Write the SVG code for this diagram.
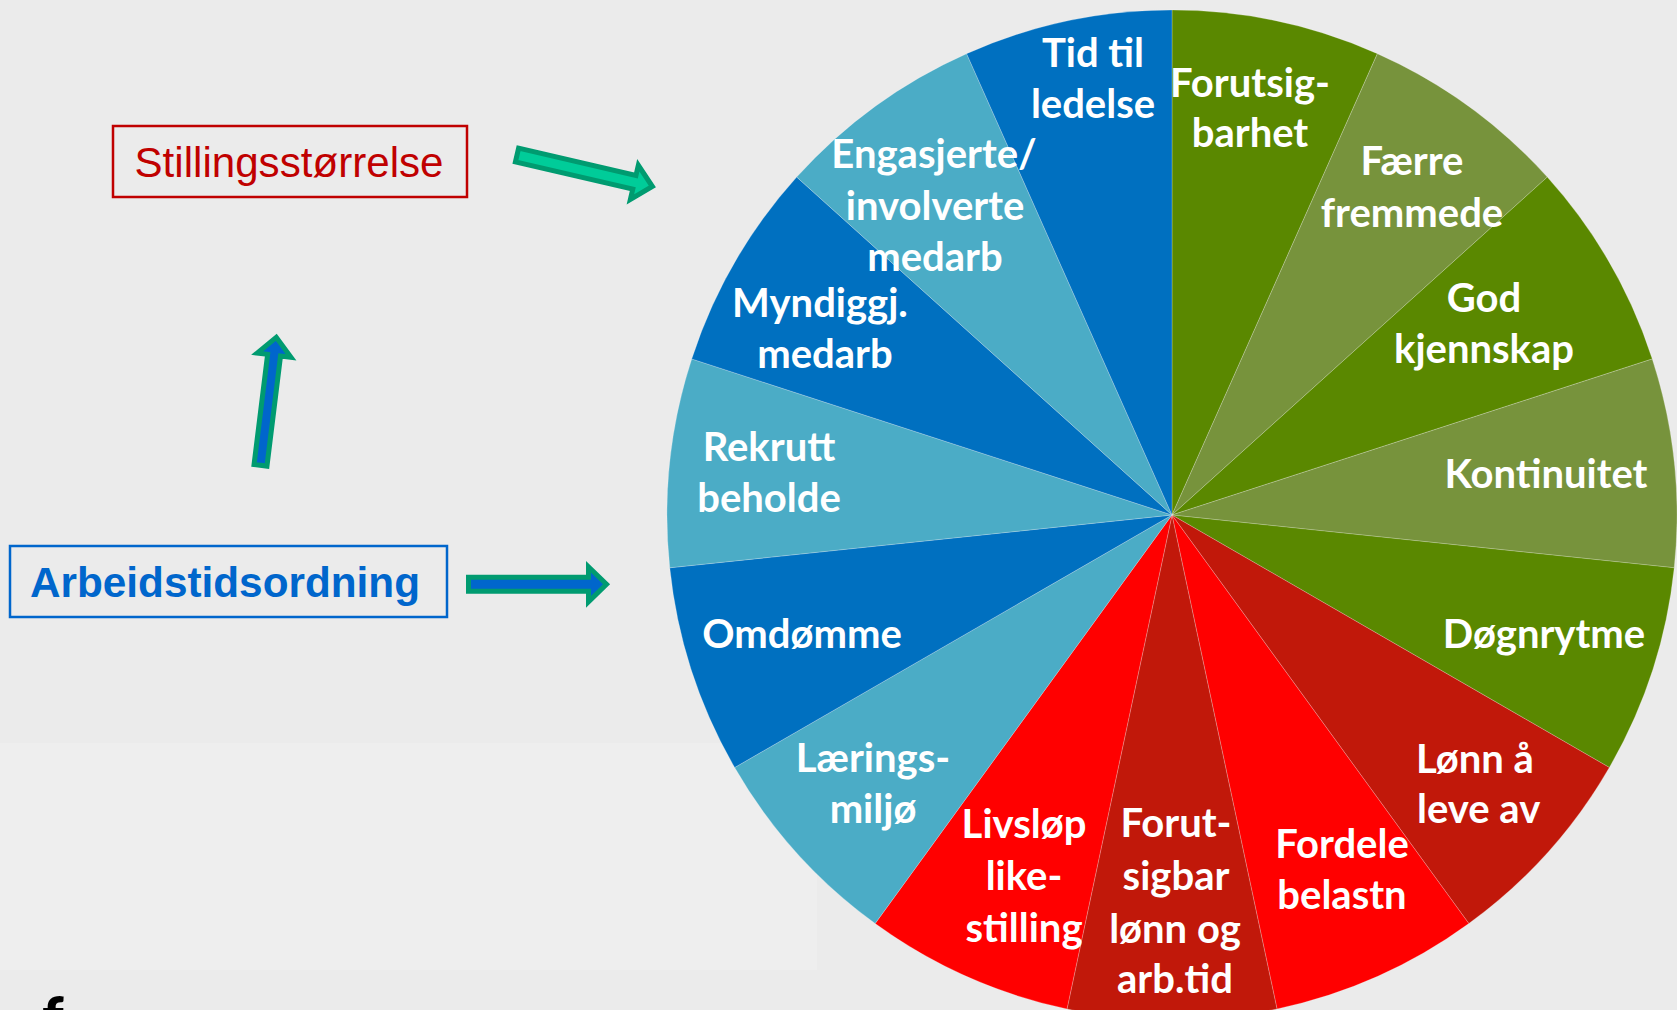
<svg xmlns="http://www.w3.org/2000/svg" width="1677" height="1010" viewBox="0 0 1677 1010">
  <style>
    .seg { stroke: #ffffff; stroke-opacity: 0.22; stroke-width: 1; }
    .dg { fill: #5a8800; }
    .og { fill: #77933c; }
    .dr { fill: #c1180a; }
    .rd { fill: #ff0000; }
    .bl { fill: #0070c0; }
    .lb { fill: #4bacc6; }
    .lbl { font-family: Lato, "Open Sans", "DejaVu Sans", sans-serif; font-weight: 700; font-size: 40px; fill: #ffffff; text-anchor: middle; }
    .lbl.left { text-anchor: start; }
    .box { fill: none; stroke-width: 2.5; }
    .arrow { stroke: #009b70; stroke-width: 5; stroke-linejoin: miter; }
  </style>

  <!-- backdrop -->
  <rect x="0" y="0" width="1677" height="1010" fill="#ebebeb"/>
  <rect x="0" y="743" width="817" height="227" fill="#eeeeee"/>

  <!-- pie: centre (1172,515), r 505, fifteen 24-degree wedges clockwise from 12 o'clock -->
  <g id="pie-wedges">
    <path id="w-forutsigbarhet" class="seg dg" d="M1172,515 L1172,10 A505,505 0 0 1 1377.40,53.66 Z"/>
    <path id="w-faerre-fremmede" class="seg og" d="M1172,515 L1377.40,53.66 A505,505 0 0 1 1547.29,177.09 Z"/>
    <path id="w-god-kjennskap" class="seg dg" d="M1172,515 L1547.29,177.09 A505,505 0 0 1 1652.28,358.95 Z"/>
    <path id="w-kontinuitet" class="seg og" d="M1172,515 L1652.28,358.95 A505,505 0 0 1 1674.23,567.79 Z"/>
    <path id="w-dognrytme" class="seg dg" d="M1172,515 L1674.23,567.79 A505,505 0 0 1 1609.34,767.5 Z"/>
    <path id="w-lonn-a-leve-av" class="seg dr" d="M1172,515 L1609.34,767.5 A505,505 0 0 1 1468.83,923.55 Z"/>
    <path id="w-fordele-belastn" class="seg rd" d="M1172,515 L1468.83,923.55 A505,505 0 0 1 1277.00,1008.97 Z"/>
    <path id="w-forutsigbar-lonn" class="seg dr" d="M1172,515 L1277.00,1008.97 A505,505 0 0 1 1067.00,1008.97 Z"/>
    <path id="w-livslop-likestilling" class="seg rd" d="M1172,515 L1067.00,1008.97 A505,505 0 0 1 875.17,923.55 Z"/>
    <path id="w-laeringsmiljo" class="seg lb" d="M1172,515 L875.17,923.55 A505,505 0 0 1 734.66,767.5 Z"/>
    <path id="w-omdomme" class="seg bl" d="M1172,515 L734.66,767.5 A505,505 0 0 1 669.77,567.79 Z"/>
    <path id="w-rekrutt-beholde" class="seg lb" d="M1172,515 L669.77,567.79 A505,505 0 0 1 691.72,358.95 Z"/>
    <path id="w-myndiggj-medarb" class="seg bl" d="M1172,515 L691.72,358.95 A505,505 0 0 1 796.71,177.09 Z"/>
    <path id="w-engasjerte-medarb" class="seg lb" d="M1172,515 L796.71,177.09 A505,505 0 0 1 966.60,53.66 Z"/>
    <path id="w-tid-til-ledelse" class="seg bl" d="M1172,515 L966.60,53.66 A505,505 0 0 1 1172,10 Z"/>
  </g>

  <!-- wedge labels, drawn above every wedge so long words may cross a border -->
  <g id="forutsigbarhet">
    <text class="lbl" x="1250" y="97">Forutsig-</text>
    <text class="lbl" x="1250" y="147">barhet</text>
  </g>
  <g id="faerre-fremmede">
    <text class="lbl" x="1412" y="175">Færre</text>
    <text class="lbl" x="1412" y="227">fremmede</text>
  </g>
  <g id="god-kjennskap">
    <text class="lbl" x="1484" y="312">God</text>
    <text class="lbl" x="1484" y="363">kjennskap</text>
  </g>
  <g id="kontinuitet">
    <text class="lbl" x="1546" y="488">Kontinuitet</text>
  </g>
  <g id="dognrytme">
    <text class="lbl" x="1544" y="648">Døgnrytme</text>
  </g>
  <g id="lonn-a-leve-av">
    <text class="lbl left" x="1416" y="773">Lønn å</text>
    <text class="lbl left" x="1417" y="823">leve av</text>
  </g>
  <g id="fordele-belastn">
    <text class="lbl" x="1342" y="858">Fordele</text>
    <text class="lbl" x="1342" y="909">belastn</text>
  </g>
  <g id="forutsigbar-lonn">
    <text class="lbl" x="1176" y="837">Forut-</text>
    <text class="lbl" x="1176" y="890">sigbar</text>
    <text class="lbl" x="1175" y="943">lønn og</text>
    <text class="lbl" x="1175" y="993">arb.tid</text>
  </g>
  <g id="livslop-likestilling">
    <text class="lbl" x="1024" y="838">Livsløp</text>
    <text class="lbl" x="1024" y="890">like-</text>
    <text class="lbl" x="1024" y="942">stilling</text>
  </g>
  <g id="laeringsmiljo">
    <text class="lbl" x="873" y="772">Lærings-</text>
    <text class="lbl" x="873" y="823">miljø</text>
  </g>
  <g id="omdomme">
    <text class="lbl" x="802" y="648">Omdømme</text>
  </g>
  <g id="rekrutt-beholde">
    <text class="lbl" x="769" y="461">Rekrutt</text>
    <text class="lbl" x="769" y="512">beholde</text>
  </g>
  <g id="myndiggj-medarb">
    <text class="lbl" x="820" y="317">Myndiggj.</text>
    <text class="lbl" x="825" y="368">medarb</text>
  </g>
  <g id="engasjerte-medarb">
    <text class="lbl" x="934" y="168">Engasjerte/</text>
    <text class="lbl" x="935" y="220">involverte</text>
    <text class="lbl" x="935" y="271">medarb</text>
  </g>
  <g id="tid-til-ledelse">
    <text class="lbl" x="1093" y="67">Tid til</text>
    <text class="lbl" x="1093" y="118">ledelse</text>
  </g>

  <!-- labelled boxes -->
  <g id="stillingsstorrelse">
    <rect class="box" x="113" y="126" width="354" height="71" stroke="#c00000"/>
    <text x="289" y="177" text-anchor="middle" font-family="'Liberation Sans', Arial, sans-serif" font-size="43" fill="#c00000" textLength="309" lengthAdjust="spacingAndGlyphs">Stillingsstørrelse</text>
  </g>
  <g id="arbeidstidsordning">
    <rect class="box" x="10" y="546" width="437" height="71" stroke="#0066cc"/>
    <text x="225" y="597" text-anchor="middle" font-family="'Liberation Sans', Arial, sans-serif" font-size="42" font-weight="700" fill="#0066cc" textLength="390" lengthAdjust="spacingAndGlyphs">Arbeidstidsordning</text>
  </g>

  <!-- block arrows: outline drawn by stroke, body by fill -->
  <g id="connectors">
    <path class="arrow" fill="#00cc99" transform="translate(517,155) rotate(13.1)" d="M0,-7 H120.5 V-17.5 L139,0 L120.5,17.5 V7 H0 Z"/>
    <path class="arrow" fill="#0066cc" transform="translate(468.5,584.3)" d="M0,-7 H120 V-17.5 L138,0 L120,17.5 V7 H0 Z"/>
    <path class="arrow" fill="#0066cc" transform="translate(260.5,465.3) rotate(-82.97)" d="M0,-6.5 H111 V-17 L129,0 L111,17 V6.5 H0 Z"/>
  </g>

  <!-- clipped letter at the lower edge -->
  <text x="42" y="1040" font-family="Lato, 'Open Sans', sans-serif" font-weight="900" font-size="60" fill="#000000">f</text>
</svg>
